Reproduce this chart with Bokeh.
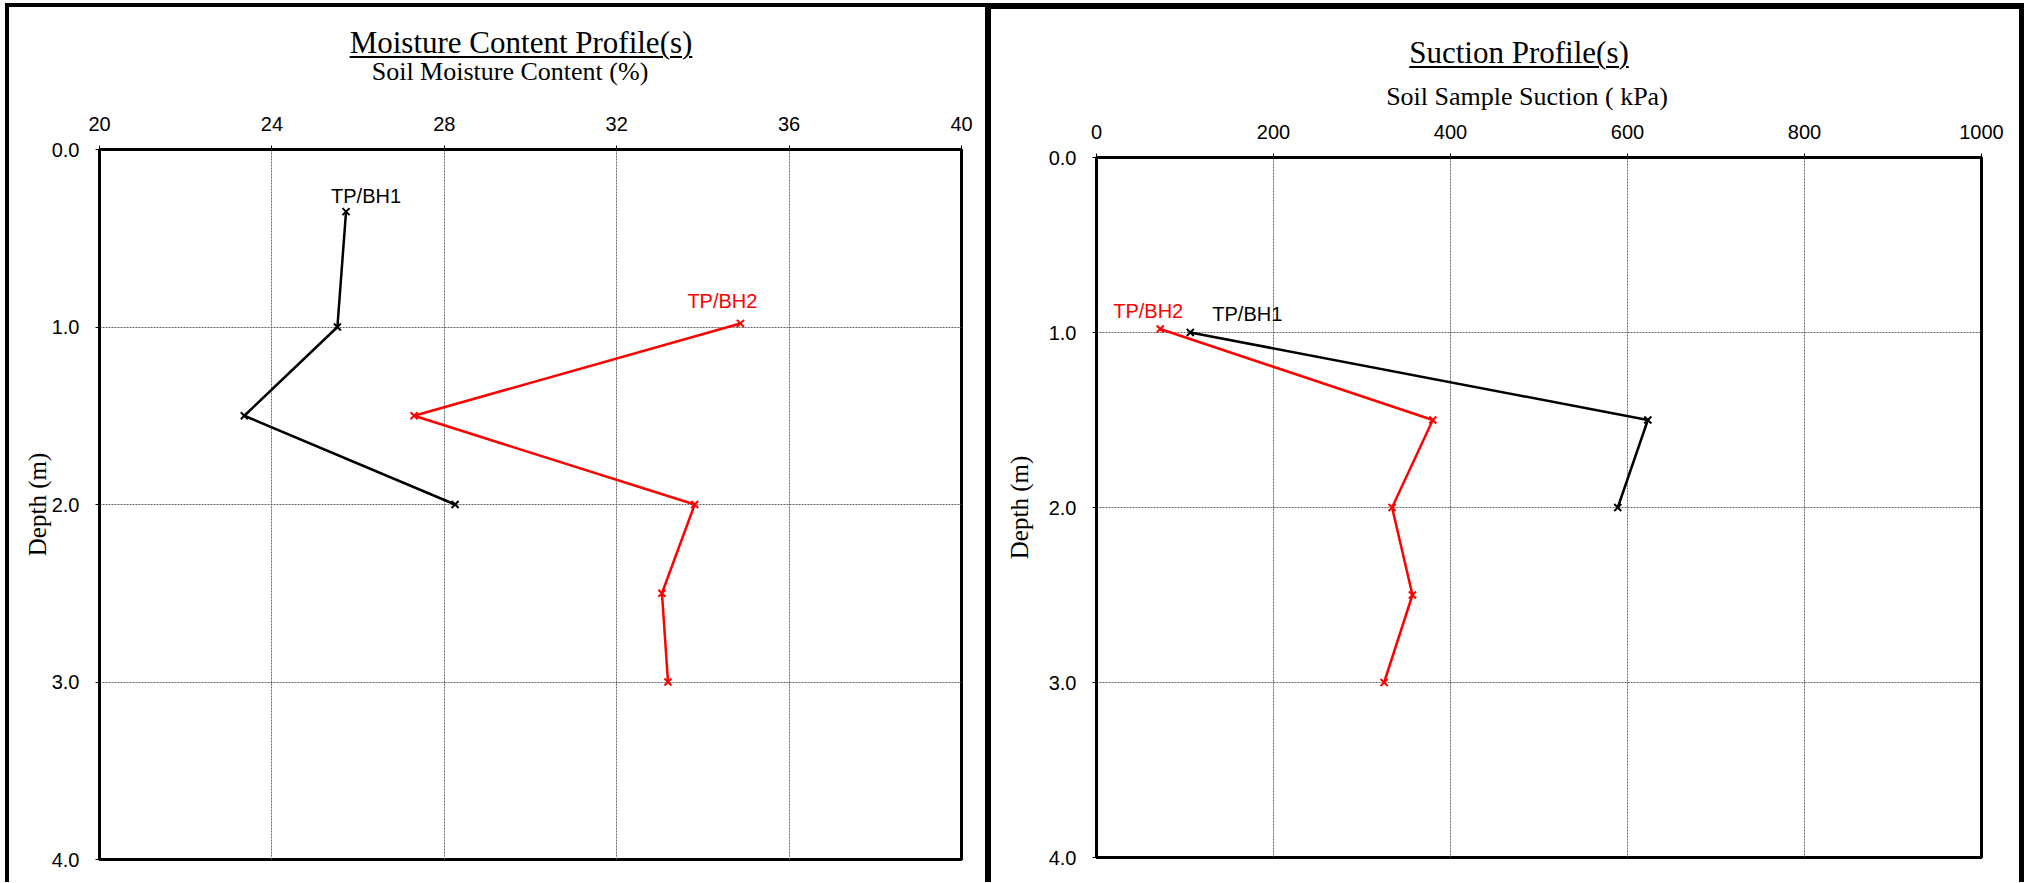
from bokeh.plotting import figure
from bokeh.models import Range1d, FixedTicker, PrintfTickFormatter, Div
from bokeh.layouts import row, column
from bokeh.core.properties import value
from bokeh.embed import file_html
from bokeh.resources import INLINE

# ---------------- data ----------------
series_names = ["TP/BH1", "TP/BH2"]
series_colors = ["#000000", "#FF0000"]

mc_depth_bh1 = [0.35, 1.0, 1.5, 2.0]
mc_bh1 = [25.72, 25.52, 23.36, 28.25]
mc_depth_bh2 = [0.98, 1.5, 2.0, 2.5, 3.0]
mc_bh2 = [34.87, 27.30, 33.81, 33.05, 33.19]

suc_depth_bh1 = [1.0, 1.5, 2.0]
suc_bh1 = [106, 623, 589]
suc_depth_bh2 = [0.98, 1.5, 2.0, 2.5, 3.0]
suc_bh2 = [72, 380, 334, 357, 325]

mc_ticks = [20, 24, 28, 32, 36, 40]
suc_ticks = [0, 200, 400, 600, 800, 1000]
depth_ticks = [0, 1, 2, 3, 4]

titles = ["Moisture Content Profile(s)", "Suction Profile(s)"]
x_titles = ["Soil Moisture Content (%)", "Soil Sample Suction ( kPa)"]
y_title = "Depth (m)"

SANS = "Liberation Sans"
SERIF = "Liberation Serif"


def make_fig(w, h, xticks, mbl, mbr, mbt, mbb, ylab_standoff):
    p = figure(width=w, height=h,
               x_range=Range1d(xticks[0], xticks[-1]),
               y_range=Range1d(depth_ticks[-1], depth_ticks[0]),
               x_axis_location="above",
               output_backend="svg", toolbar_location=None,
               min_border_left=mbl, min_border_right=mbr,
               min_border_top=mbt, min_border_bottom=mbb)
    p.border_fill_color = None
    p.background_fill_color = "white"
    p.outline_line_color = "black"
    p.outline_line_width = 3

    for ax in (p.xaxis[0], p.yaxis[0]):
        ax.axis_line_width = 3
        ax.axis_line_color = "black"
        ax.major_tick_out = 4
        ax.major_tick_in = 0
        ax.major_tick_line_color = "black"
        ax.major_tick_line_width = 1
        ax.minor_tick_line_color = None
        ax.major_label_text_font = SANS
        ax.major_label_text_font_size = "20px"
        ax.major_label_text_color = "black"

    p.xaxis.ticker = FixedTicker(ticks=xticks)
    p.xaxis.major_label_standoff = 15
    p.yaxis.ticker = FixedTicker(ticks=depth_ticks)
    p.yaxis.formatter = PrintfTickFormatter(format="%.1f")
    p.yaxis.major_label_standoff = 16
    p.yaxis.axis_label = y_title
    p.yaxis.axis_label_text_font = SERIF
    p.yaxis.axis_label_text_font_size = "25px"
    p.yaxis.axis_label_text_font_style = "normal"
    p.yaxis.axis_label_text_color = "black"
    p.yaxis.axis_label_standoff = ylab_standoff

    p.xgrid.ticker = FixedTicker(ticks=xticks)
    p.ygrid.ticker = FixedTicker(ticks=depth_ticks)
    for g in (p.xgrid[0], p.ygrid[0]):
        g.grid_line_color = "#666666"
        g.grid_line_width = 1
        g.grid_line_dash = "2 1"
    return p


def add_series(p, xs, ys, color, name, dx, dy):
    p.line(xs, ys, line_color=color, line_width=2.5)
    p.scatter(xs, ys, marker="x", size=10, line_color=color, line_width=2)
    p.text(x=[xs[0]], y=[ys[0]], text=[name], x_offset=dx, y_offset=dy,
           text_align="center", text_baseline="alphabetic",
           text_font=value(SANS), text_font_size="20px", text_color=color)


def centered_block(w, center, top, size, inner):
    # a block whose horizontal centre sits at `center` px from the panel's left
    if 2 * center > w:
        left, width = 2 * center - w, 2 * (w - center)
    else:
        left, width = 0, 2 * center
    return (f'<div style="position:absolute;left:{left}px;top:{top}px;width:{width}px;'
            f'text-align:center;font-family:\'{SERIF}\';font-size:{size}px;'
            f'line-height:{size}px;color:#000;white-space:nowrap;">{inner}</div>')


def header(w, h, title, t_top, t_center, sub, s_top, s_center):
    html = (
        f'<div style="position:relative;width:{w}px;height:{h}px;margin:0;padding:0;">'
        + centered_block(w, t_center, t_top, 31,
                         f'<span style="text-decoration:underline;text-decoration-thickness:2px;'
                         f'text-underline-offset:3px;">{title}</span>')
        + centered_block(w, s_center, s_top, 26, sub)
        + '</div>'
    )
    return Div(text=html, width=w, height=h, margin=0)


# ---------------- left panel ----------------
LW, RW = 986, 1033
PANEL_H = 879

lh = 87
left_div = header(LW, lh, titles[0], 24, 516, x_titles[0], 56, 505)
p1 = make_fig(LW, PANEL_H - lh, mc_ticks, 94, 30, 59, 23, -2)
add_series(p1, mc_bh1, mc_depth_bh1, series_colors[0], series_names[0], 20, -16)
add_series(p1, mc_bh2, mc_depth_bh2, series_colors[1], series_names[1], -18, -22)

left = column(left_div, p1, spacing=0,
              styles={"box-shadow": "inset 4px 0 0 0 #000, inset 0 4px 0 0 #000, inset -6px 0 0 0 #000"})

# ---------------- right panel ----------------
rh = 109
right_div = header(RW, rh, titles[1], 34, 528, x_titles[1], 81, 536)
p2 = make_fig(RW, PANEL_H - rh, suc_ticks, 105, 43, 45, 25, 13)
add_series(p2, suc_bh1, suc_depth_bh1, series_colors[0], series_names[0], 57, -18.5)
add_series(p2, suc_bh2, suc_depth_bh2, series_colors[1], series_names[1], -12, -18)

right = column(right_div, p2, spacing=0,
               styles={"box-shadow": "inset 0 6px 0 0 #000, inset -5px 0 0 0 #000"})

layout = row(left, right, spacing=0, margin=(3, 0, 0, 5))

with open("out.html", "w") as f:
    f.write(file_html(layout, INLINE, title="Profiles"))
